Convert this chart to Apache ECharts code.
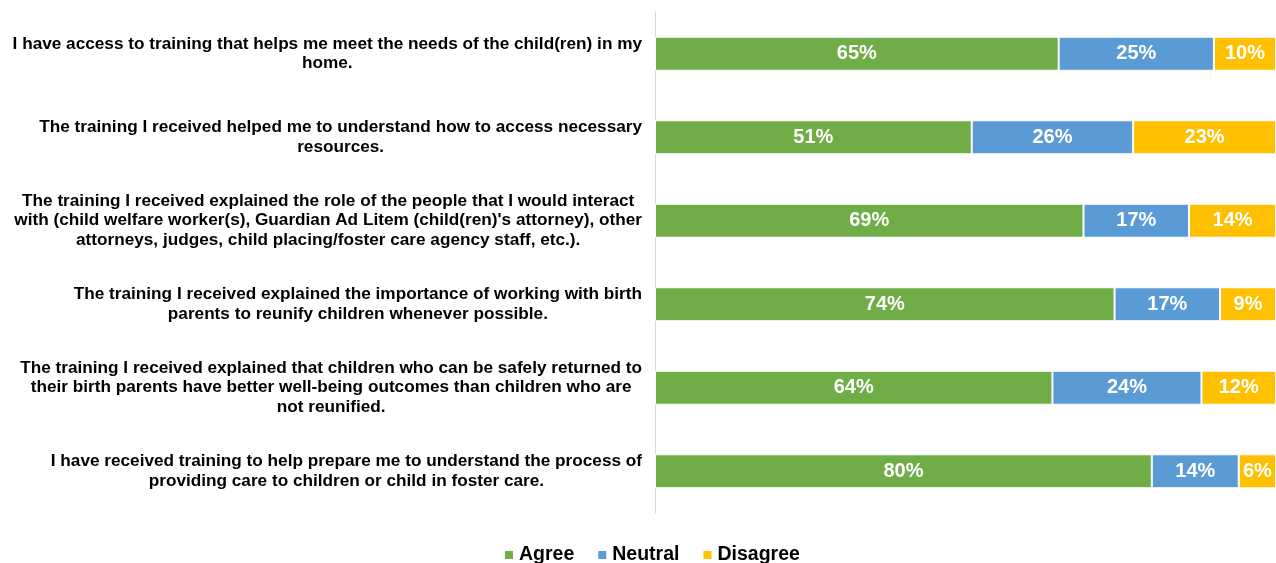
<!DOCTYPE html>
<html>
<head>
<meta charset="utf-8">
<style>
  html, body { margin: 0; padding: 0; background: #fff; }
  #chart { width: 1276px; height: 563px; }
</style>
<script src="https://cdn.jsdelivr.net/npm/echarts@6/dist/echarts.min.js"></script>
</head>
<body>
<div id="chart"></div>
<script>
// Survey statements (top to bottom) and response shares in percent
const statements = [
  "I have access to training that helps me meet the needs of the child(ren) in my\nhome.",
  "The training I received helped me to understand how to access necessary\nresources.",
  "The training I received explained the role of the people that I would interact\nwith (child welfare worker(s), Guardian Ad Litem (child(ren)'s attorney), other\nattorneys, judges, child placing/foster care agency staff, etc.).",
  "The training I received explained the importance of working with birth\nparents to reunify children whenever possible.",
  "The training I received explained that children who can be safely returned to\ntheir birth parents have better well-being outcomes than children who are\nnot reunified.",
  "I have received training to help prepare me to understand the process of\nproviding care to children or child in foster care."
];
const agree    = [65, 51, 69, 74, 64, 80];
const neutral  = [25, 26, 17, 17, 24, 14];
const disagree = [10, 23, 14,  9, 12,  6];

const FONT = '"Liberation Sans", Arial, sans-serif';
const COLORS = { agree: '#70AD47', neutral: '#5B9BD5', disagree: '#FFC000' };

const chart = echarts.init(document.getElementById('chart'), null, { renderer: 'canvas' });

function barSeries(name, values, color) {
  return {
    name: name,
    type: 'bar',
    stack: 'total',
    data: values,
    barWidth: 34,
    itemStyle: { color: color, borderColor: '#ffffff', borderWidth: 1 },
    label: {
      show: true,
      position: 'inside',
      formatter: '{c}%',
      color: '#ffffff',
      fontFamily: FONT,
      fontWeight: 'bold',
      fontSize: 20
    },
    emphasis: { disabled: true }
  };
}

chart.setOption({
  animation: false,
  backgroundColor: '#ffffff',
  grid: { left: 655, right: 0, top: 12, bottom: 50, containLabel: false, outerBoundsMode: 'none' },
  xAxis: {
    type: 'value',
    min: 0,
    max: 100,
    show: false
  },
  yAxis: {
    type: 'category',
    inverse: true,
    data: statements,
    axisLine: { show: true, lineStyle: { color: '#D9D9D9', width: 1 } },
    axisTick: { show: false },
    splitLine: { show: false },
    axisLabel: {
      margin: 13,
      align: 'right',
      // each line is centred within its own label block
      formatter: function (value) {
        return value.split('\n').map(function (line) { return '{c|' + line + '}'; }).join('\n');
      },
      rich: {
        c: {
          align: 'center',
          fontFamily: FONT,
          fontWeight: 'bold',
          fontSize: 17.2,
          lineHeight: 19.5,
          color: '#000000'
        }
      }
    }
  },
  legend: {
    data: ['Agree', 'Neutral', 'Disagree'],
    left: 503,
    top: 545,
    padding: 0,
    icon: 'rect',
    itemWidth: 10,
    itemHeight: 10,
    itemGap: 22,
    selectedMode: false,
    textStyle: {
      fontFamily: FONT,
      fontWeight: 'bold',
      fontSize: 19.5,
      color: '#000000'
    }
  },
  series: [
    barSeries('Agree', agree, COLORS.agree),
    barSeries('Neutral', neutral, COLORS.neutral),
    barSeries('Disagree', disagree, COLORS.disagree)
  ]
});
</script>
</body>
</html>
